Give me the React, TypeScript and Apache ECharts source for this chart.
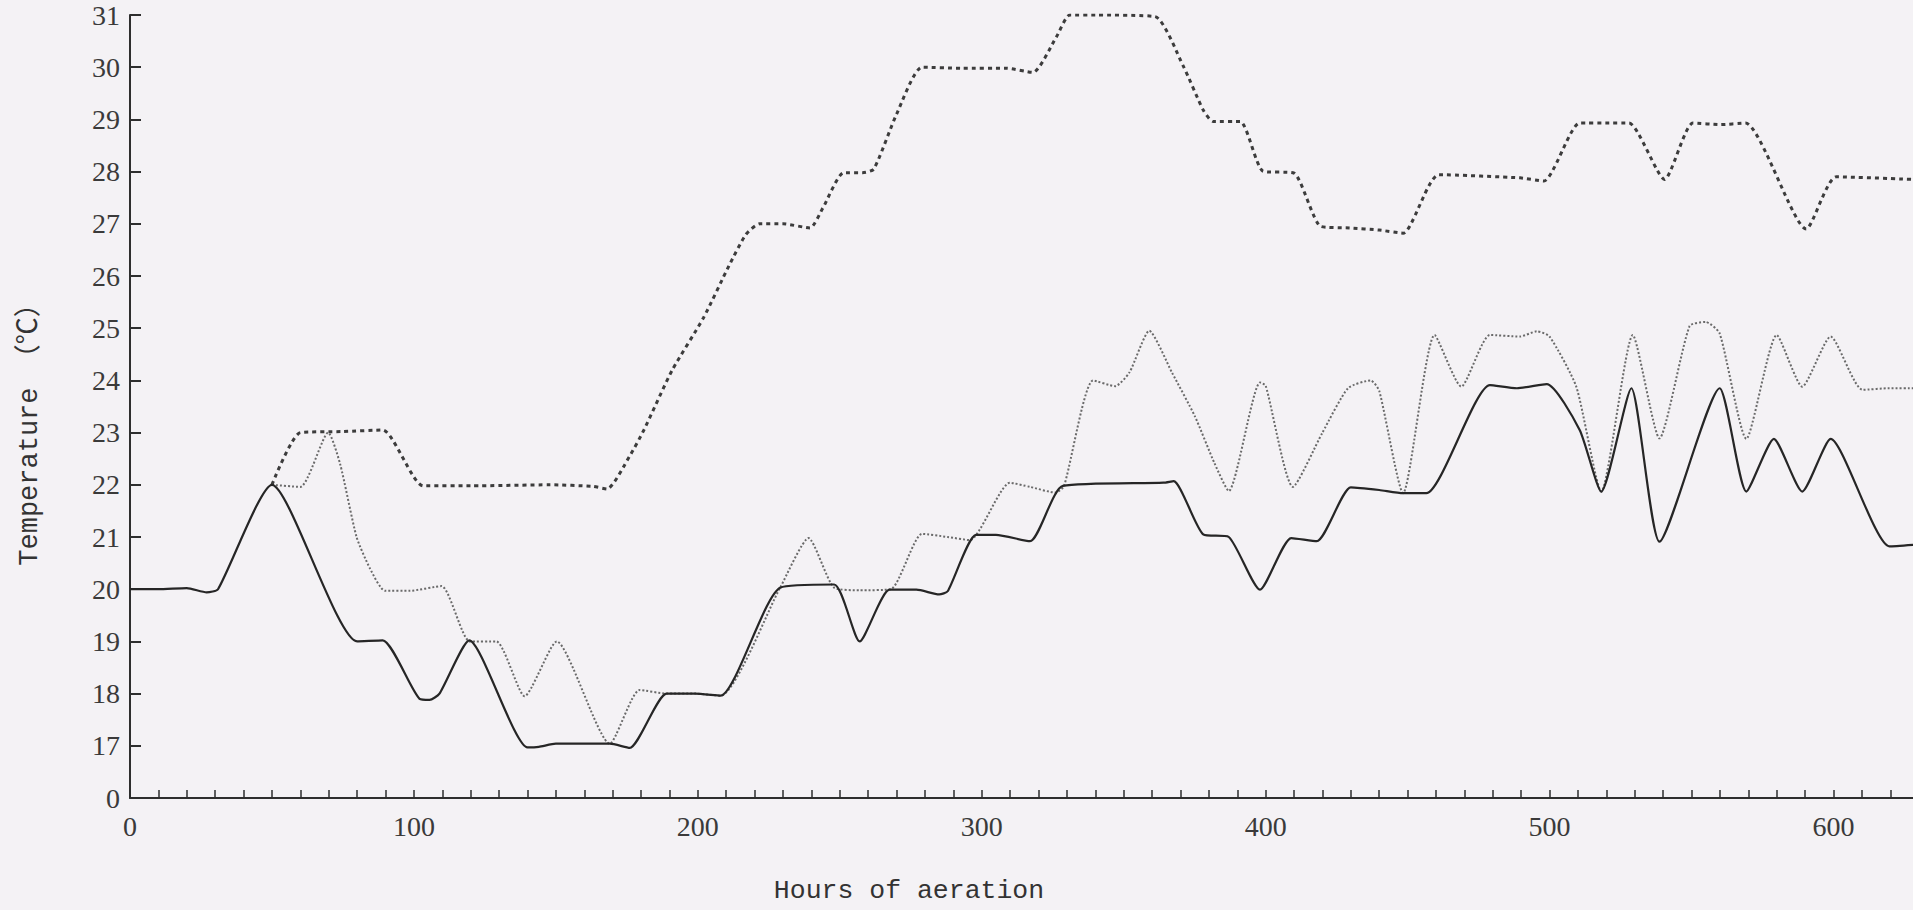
import React, { useEffect, useRef } from "react";
import * as echarts from "echarts";

// Hours of aeration vs temperature (°C); y value 16 is shown as "0" (axis break)
const solidLine: [number, number][] = [
  [0, 20], [10, 20], [20, 20.02], [27, 19.94], [31, 20.0], [50, 22.0], [80, 19.0], [89, 19.02],
  [102, 17.9], [105.5, 17.88], [109, 18.0], [119.5, 19.02], [140, 16.97], [144, 16.98], [150, 17.04],
  [169, 17.04], [176, 16.96], [189, 18.0], [199, 18.0], [208, 17.96], [229, 20.03], [248, 20.09],
  [257, 19.0], [267.5, 19.99], [277, 19.99], [285, 19.9], [288, 19.96], [298, 21.04], [305, 21.04],
  [317, 20.92], [328.6, 21.98], [364, 22.04], [367.6, 22.07], [378, 21.05], [387, 21.0], [398, 19.99],
  [409, 20.98], [418, 20.92], [430, 21.95], [440, 21.9], [448.4, 21.84], [456.6, 21.84], [479, 23.91],
  [488.5, 23.85], [499, 23.93], [510.6, 23.05], [518.2, 21.87], [528.8, 23.85], [538.7, 20.91],
  [559.9, 23.85], [569.3, 21.87], [579, 22.88], [589, 21.87], [599, 22.88], [619.7, 20.82], [628, 20.85],
];

const dashedLine: [number, number][] = [
  [50, 22.0], [60, 23.0], [75, 23.02], [89, 23.05], [103.3, 21.98], [120, 21.98], [148, 22.0],
  [163, 21.97], [168, 21.92], [176, 22.55], [181, 23.05], [191, 24.2], [202, 25.2], [211, 26.2],
  [217, 26.8], [221.8, 27.0], [230, 27.0], [239.5, 26.92], [244, 27.3], [251.4, 27.98], [258, 27.98],
  [262, 28.05], [270, 29.1], [279, 30.0], [293, 29.98], [308.7, 29.98], [318, 29.9], [326.3, 30.58],
  [331, 31.0], [340, 31.0], [361, 30.97], [371, 30.02], [378, 29.18], [381.5, 28.96], [391, 28.96],
  [399, 28.01], [410, 27.97], [419.4, 26.95], [429.6, 26.92], [440, 26.88], [448.4, 26.82],
  [461, 27.94], [489.6, 27.88], [498, 27.82], [510.6, 28.93], [521, 28.93], [528, 28.93],
  [540.5, 27.85], [550.5, 28.93], [560, 28.9], [569, 28.93], [590.4, 26.9], [601, 27.9], [628, 27.85],
];

const dottedLine: [number, number][] = [
  [50, 22.0], [60, 21.96], [69.8, 23.0], [74, 22.4], [79.8, 21.0], [84.5, 20.4], [89.8, 19.97],
  [98.6, 19.97], [109.7, 20.06], [119.7, 19.0], [129, 19.0], [139, 17.95], [150.3, 19.0],
  [169, 17.04], [179.5, 18.07], [189, 18.0], [199, 18.0], [208, 17.96], [229, 20.03], [239, 20.98],
  [248, 20.03], [257, 19.98], [268, 20.0], [279, 21.06], [288, 21.0], [295.8, 20.94], [309.9, 22.04],
  [317, 21.96], [326, 21.85], [329, 21.98], [339.2, 24.0], [347, 23.89], [352, 24.15], [359, 24.95],
  [367, 24.15], [375, 23.32], [382, 22.41], [387, 21.88], [398, 23.96], [400, 23.9], [409.6, 21.96],
  [420, 23.0], [429, 23.85], [437, 24.0], [440, 23.8], [448.4, 21.84], [459.5, 24.87], [468.9, 23.88],
  [479, 24.87], [489.6, 24.84], [495.5, 24.94], [500, 24.84], [509.4, 23.88], [518.2, 21.87],
  [529.3, 24.87], [538.7, 22.89], [549.3, 25.04], [555, 25.12], [559.9, 24.9], [569.3, 22.88],
  [580, 24.87], [589, 23.88], [599, 24.84], [610.2, 23.82], [619.7, 23.85], [628, 23.85],
];

const xLabelValues = [0, 100, 200, 300, 400, 500, 600];
const yTickLabels: Record<number, string> = { 16: "0" };
const xTitle = "Hours of aeration";
const yTitle = "Temperature （℃）";

export default function App() {
  const ref = useRef<HTMLDivElement>(null);
  useEffect(() => {
    if (!ref.current) return;
    const chart = echarts.init(ref.current, undefined, { renderer: "svg" });
    const ink = "#2e2e2e";
    chart.setOption({
      animation: false,
      backgroundColor: "#f4f2f5",
      grid: { left: 130, right: 0, top: 15, bottom: 112, containLabel: false },
      xAxis: {
        type: "value",
        min: 0,
        max: 628,
        interval: 10,
        splitLine: { show: false },
        axisLine: { lineStyle: { color: ink, width: 2 } },
        axisTick: { inside: true, length: 8, lineStyle: { color: ink, width: 1.5 } },
        axisLabel: {
          margin: 14,
          fontFamily: "Liberation Serif",
          fontSize: 28,
          color: "#3a3a3a",
          showMaxLabel: false,
          formatter: (v: number) => (xLabelValues.includes(Math.round(v)) ? String(Math.round(v)) : ""),
        },
      },
      yAxis: {
        type: "value",
        min: 16,
        max: 31,
        interval: 1,
        splitLine: { show: false },
        axisLine: { show: true, lineStyle: { color: ink, width: 2 } },
        axisTick: { show: true, inside: true, length: 11, lineStyle: { color: ink, width: 2 } },
        axisLabel: {
          margin: 10,
          fontFamily: "Liberation Serif",
          fontSize: 28,
          color: "#3a3a3a",
          formatter: (v: number) => yTickLabels[v] ?? String(v),
        },
      },
      graphic: [
        {
          type: "text",
          x: 909,
          y: 891,
          style: {
            text: xTitle,
            fontFamily: "Liberation Mono",
            fontSize: 26.5,
            fill: "#333",
            align: "center",
            verticalAlign: "middle",
          },
        },
        {
          type: "text",
          x: 30,
          y: 428,
          rotation: Math.PI / 2,
          style: {
            text: yTitle,
            fontFamily: "Liberation Mono, Noto Sans CJK JP",
            fontSize: 27,
            fill: "#333",
            align: "center",
            verticalAlign: "middle",
          },
        },
      ],
      series: [
        {
          type: "line",
          data: dashedLine,
          showSymbol: false,
          smooth: 0.2,
          lineStyle: { color: "#3c3c3c", width: 3, type: [4, 4] },
          z: 2,
        },
        {
          type: "line",
          data: dottedLine,
          showSymbol: false,
          smooth: 0.2,
          lineStyle: { color: "#6a6a6a", width: 2, type: [2, 2] },
          z: 3,
        },
        {
          type: "line",
          data: solidLine,
          showSymbol: false,
          smooth: 0.2,
          lineStyle: { color: "#262626", width: 2.2 },
          z: 4,
        },
      ],
    });
    return () => chart.dispose();
  }, []);
  return (
    <div
      ref={ref}
      style={{ position: "fixed", left: 0, top: 0, width: 1913, height: 910 }}
    />
  );
}
